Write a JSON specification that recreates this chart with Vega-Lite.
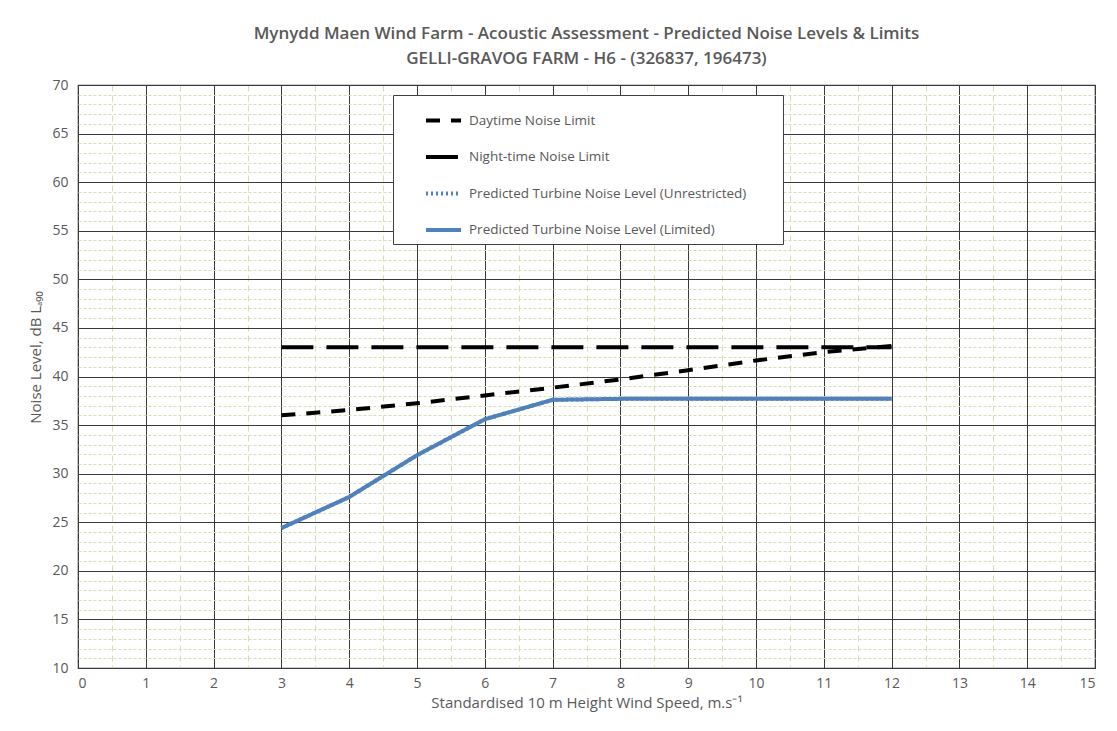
{
  "$schema": "https://vega.github.io/schema/vega-lite/v6.json",
  "width": 1017,
  "height": 583,
  "autosize": {"type": "none"},
  "padding": {"left": 78, "top": 85, "right": 22, "bottom": 63},
  "background": "white",
  "config": {
    "font": "Open Sans",
    "view": {"stroke": "#404040", "strokeWidth": 1.2},
    "axis": {"labelColor": "#595959", "titleColor": "#595959", "labelFont": "Open Sans", "titleFont": "Open Sans"}
  },
  "title": {
    "text": ["Mynydd Maen Wind Farm - Acoustic Assessment - Predicted Noise Levels & Limits", "GELLI-GRAVOG FARM - H6 - (326837, 196473)"],
    "fontSize": 17,
    "fontWeight": 600,
    "color": "#595959",
    "lineHeight": 25,
    "offset": 10,
    "anchor": "middle"
  },
  "data": {
    "values": [
      {"series": "Daytime Noise Limit", "speed": 3, "level": 36.0},
      {"series": "Daytime Noise Limit", "speed": 4, "level": 36.55},
      {"series": "Daytime Noise Limit", "speed": 5, "level": 37.25},
      {"series": "Daytime Noise Limit", "speed": 6, "level": 38.05},
      {"series": "Daytime Noise Limit", "speed": 7, "level": 38.85},
      {"series": "Daytime Noise Limit", "speed": 8, "level": 39.7},
      {"series": "Daytime Noise Limit", "speed": 9, "level": 40.65},
      {"series": "Daytime Noise Limit", "speed": 10, "level": 41.65},
      {"series": "Daytime Noise Limit", "speed": 11, "level": 42.5},
      {"series": "Daytime Noise Limit", "speed": 12, "level": 43.15},
      {"series": "Night-time Noise Limit", "speed": 3, "level": 43.0},
      {"series": "Night-time Noise Limit", "speed": 4, "level": 43.0},
      {"series": "Night-time Noise Limit", "speed": 5, "level": 43.0},
      {"series": "Night-time Noise Limit", "speed": 6, "level": 43.0},
      {"series": "Night-time Noise Limit", "speed": 7, "level": 43.0},
      {"series": "Night-time Noise Limit", "speed": 8, "level": 43.0},
      {"series": "Night-time Noise Limit", "speed": 9, "level": 43.0},
      {"series": "Night-time Noise Limit", "speed": 10, "level": 43.0},
      {"series": "Night-time Noise Limit", "speed": 11, "level": 43.0},
      {"series": "Night-time Noise Limit", "speed": 12, "level": 43.0},
      {"series": "Predicted Turbine Noise Level (Unrestricted)", "speed": 3, "level": 24.4},
      {"series": "Predicted Turbine Noise Level (Unrestricted)", "speed": 4, "level": 27.6},
      {"series": "Predicted Turbine Noise Level (Unrestricted)", "speed": 5, "level": 31.9},
      {"series": "Predicted Turbine Noise Level (Unrestricted)", "speed": 6, "level": 35.6},
      {"series": "Predicted Turbine Noise Level (Unrestricted)", "speed": 7, "level": 37.6},
      {"series": "Predicted Turbine Noise Level (Unrestricted)", "speed": 8, "level": 37.7},
      {"series": "Predicted Turbine Noise Level (Unrestricted)", "speed": 9, "level": 37.7},
      {"series": "Predicted Turbine Noise Level (Unrestricted)", "speed": 10, "level": 37.7},
      {"series": "Predicted Turbine Noise Level (Unrestricted)", "speed": 11, "level": 37.7},
      {"series": "Predicted Turbine Noise Level (Unrestricted)", "speed": 12, "level": 37.7},
      {"series": "Predicted Turbine Noise Level (Limited)", "speed": 3, "level": 24.4},
      {"series": "Predicted Turbine Noise Level (Limited)", "speed": 4, "level": 27.6},
      {"series": "Predicted Turbine Noise Level (Limited)", "speed": 5, "level": 31.9},
      {"series": "Predicted Turbine Noise Level (Limited)", "speed": 6, "level": 35.6},
      {"series": "Predicted Turbine Noise Level (Limited)", "speed": 7, "level": 37.6},
      {"series": "Predicted Turbine Noise Level (Limited)", "speed": 8, "level": 37.7},
      {"series": "Predicted Turbine Noise Level (Limited)", "speed": 9, "level": 37.7},
      {"series": "Predicted Turbine Noise Level (Limited)", "speed": 10, "level": 37.7},
      {"series": "Predicted Turbine Noise Level (Limited)", "speed": 11, "level": 37.7},
      {"series": "Predicted Turbine Noise Level (Limited)", "speed": 12, "level": 37.7}
    ]
  },
  "mark": {"type": "line", "strokeCap": "butt"},
  "encoding": {
    "x": {
      "field": "speed",
      "type": "quantitative",
      "scale": {"domain": [0, 15], "nice": false},
      "axis": {
        "title": "Standardised 10 m Height Wind Speed, m.s⁻¹",
        "titleFontSize": 15,
        "titleFontWeight": "normal",
        "titlePadding": 5,
        "values": [0, 0.5, 1, 1.5, 2, 2.5, 3, 3.5, 4, 4.5, 5, 5.5, 6, 6.5, 7, 7.5, 8, 8.5, 9, 9.5, 10, 10.5, 11, 11.5, 12, 12.5, 13, 13.5, 14, 14.5, 15],
        "labelExpr": "datum.value % 1 === 0 ? format(datum.value, 'd') : ''",
        "labelFontSize": 14,
        "labelPadding": 8,
        "ticks": false,
        "domain": false,
        "grid": true,
        "gridColor": {"condition": {"test": "datum.value % 1 === 0", "value": "#3a3a3a"}, "value": "#d9dcb4"},
        "gridDash": {"condition": {"test": "datum.value % 1 === 0", "value": []}, "value": [6, 4]},
        "gridWidth": 1,
        "gridOpacity": 1
      }
    },
    "y": {
      "field": "level",
      "type": "quantitative",
      "scale": {"domain": [10, 70], "nice": false},
      "axis": {
        "title": "Noise Level, dB Lₐ₉₀",
        "titleFontSize": 15,
        "titleFontWeight": "normal",
        "titlePadding": 8,
        "titleY": 272,
        "values": [10, 11, 12, 13, 14, 15, 16, 17, 18, 19, 20, 21, 22, 23, 24, 25, 26, 27, 28, 29, 30, 31, 32, 33, 34, 35, 36, 37, 38, 39, 40, 41, 42, 43, 44, 45, 46, 47, 48, 49, 50, 51, 52, 53, 54, 55, 56, 57, 58, 59, 60, 61, 62, 63, 64, 65, 66, 67, 68, 69, 70],
        "labelExpr": "datum.value % 5 === 0 ? datum.label : ''",
        "labelFontSize": 14,
        "labelPadding": 10,
        "ticks": false,
        "domain": false,
        "grid": true,
        "gridColor": {"condition": {"test": "datum.value % 5 === 0", "value": "#3a3a3a"}, "value": "#d9dcb4"},
        "gridDash": {"condition": {"test": "datum.value % 5 === 0", "value": []}, "value": [3, 2]},
        "gridWidth": 1,
        "gridOpacity": 1
      }
    },
    "color": {
      "field": "series",
      "type": "nominal",
      "scale": {
        "domain": ["Daytime Noise Limit", "Night-time Noise Limit", "Predicted Turbine Noise Level (Unrestricted)", "Predicted Turbine Noise Level (Limited)"],
        "range": ["#000000", "#000000", "#4F81BD", "#4F81BD"]
      },
      "legend": {
        "title": null,
        "orient": "none",
        "legendX": 315,
        "legendY": 10,
        "fillColor": "white",
        "strokeColor": "#404040",
        "padding": 6,
        "symbolType": "stroke",
        "symbolSize": 1225,
        "symbolOffset": 25,
        "labelFontSize": 13.5,
        "labelColor": "#595959",
        "labelOffset": 6,
        "labelLimit": 500,
        "labelExpr": "datum.label + '\u2800\u2800\u2800'",
        "rowPadding": 8.5
      }
    },
    "strokeDash": {
      "field": "series",
      "type": "nominal",
      "scale": {
        "domain": ["Daytime Noise Limit", "Night-time Noise Limit", "Predicted Turbine Noise Level (Unrestricted)", "Predicted Turbine Noise Level (Limited)"],
        "range": [[14, 11], [32, 13], [2, 3], [1, 0]]
      },
      "legend": null
    },
    "strokeWidth": {
      "field": "series",
      "type": "nominal",
      "scale": {
        "domain": ["Daytime Noise Limit", "Night-time Noise Limit", "Predicted Turbine Noise Level (Unrestricted)", "Predicted Turbine Noise Level (Limited)"],
        "range": [4, 4, 2, 3]
      },
      "legend": null
    }
  }
}
